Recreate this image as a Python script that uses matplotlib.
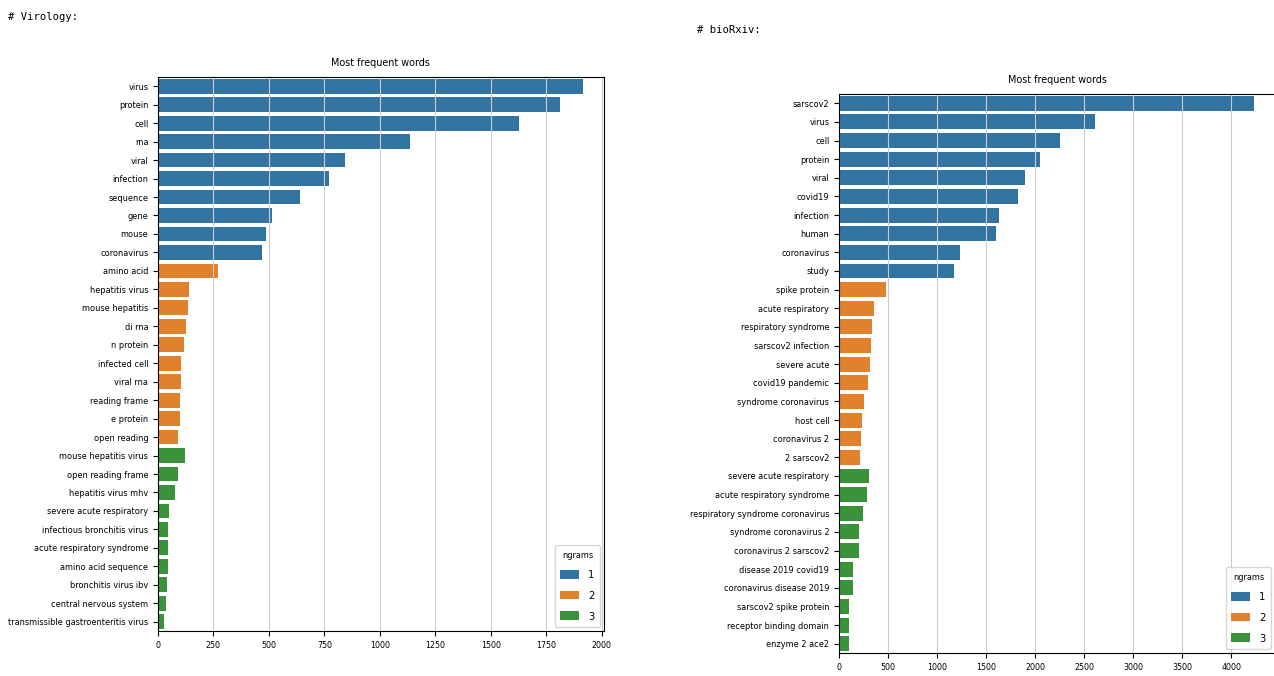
import os
import pandas as pd
import seaborn as sns
import matplotlib
matplotlib.use("Agg")
import matplotlib.pyplot as plt
from matplotlib import font_manager
from matplotlib.font_manager import FontProperties
from matplotlib.textpath import TextPath

# word counts per corpus, top 10 for each n-gram size
vir_words = ["virus", "protein", "cell", "rna", "viral", "infection", "sequence", "gene", "mouse", "coronavirus",
             "amino acid", "hepatitis virus", "mouse hepatitis", "di rna", "n protein", "infected cell",
             "viral rna", "reading frame", "e protein", "open reading",
             "mouse hepatitis virus", "open reading frame", "hepatitis virus mhv", "severe acute respiratory",
             "infectious bronchitis virus", "acute respiratory syndrome", "amino acid sequence",
             "bronchitis virus ibv", "central nervous system", "transmissible gastroenteritis virus"]
vir_counts = [1914, 1812, 1625, 1137, 843, 770, 639, 512, 487, 470,
              271, 141, 137, 125, 118, 102, 102, 100, 98, 91,
              123, 91, 77, 50, 46, 45, 45, 39, 36, 29]

bio_words = ["sarscov2", "virus", "cell", "protein", "viral", "covid19", "infection", "human", "coronavirus", "study",
             "spike protein", "acute respiratory", "respiratory syndrome", "sarscov2 infection", "severe acute",
             "covid19 pandemic", "syndrome coronavirus", "host cell", "coronavirus 2", "2 sarscov2",
             "severe acute respiratory", "acute respiratory syndrome", "respiratory syndrome coronavirus",
             "syndrome coronavirus 2", "coronavirus 2 sarscov2", "disease 2019 covid19", "coronavirus disease 2019",
             "sarscov2 spike protein", "receptor binding domain", "enzyme 2 ace2"]
bio_counts = [4232, 2604, 2252, 2052, 1896, 1824, 1632, 1600, 1236, 1176,
              476, 356, 332, 324, 316, 292, 252, 236, 220, 212,
              308, 284, 244, 204, 204, 144, 144, 100, 100, 100]

ngrams = ["1"] * 10 + ["2"] * 10 + ["3"] * 10
palette = ["#1f77b4", "#ff7f0e", "#2ca02c"]


def narrow_font():
    # prefer the narrowest sans face that is installed
    prefs = ["NotoSans-ExtraCondensed.ttf", "LiberationSansNarrow-Regular.ttf",
             "NotoSans-Condensed.ttf", "DejaVuSansCondensed.ttf", "LiberationSans-Regular.ttf"]
    files = {}
    for f in font_manager.findSystemFonts() + [f.fname for f in font_manager.fontManager.ttflist]:
        files.setdefault(os.path.basename(f), f)
    for p in prefs:
        if p in files:
            return files[p]
    return font_manager.findfont("DejaVu Sans")


def fitted(path, text, target_px):
    # font size (pt) that makes `text` about target_px wide at 100 dpi
    w = TextPath((0, 0), text, size=10, prop=FontProperties(fname=path)).get_extents().width * 100 / 72
    return 10 * target_px / w


sans = narrow_font()
mono = font_manager.findfont("DejaVu Sans Mono")

ytick_fp = FontProperties(fname=sans, size=fitted(sans, "transmissible gastroenteritis virus", 139))
xtick_fp = FontProperties(fname=sans, size=fitted(sans, "2000", 19))
title_fp = FontProperties(fname=sans, size=fitted(sans, "Most frequent words", 98))
legtitle_fp = FontProperties(fname=sans, size=fitted(sans, "ngrams", 30))
leg_fp = FontProperties(fname=sans, size=8)
head_fp = FontProperties(fname=mono, size=fitted(mono, "# Virology:", 67))

fig = plt.figure(figsize=(12.74, 6.76), dpi=100)
fig.text(0.006, 0.975, "# Virology:", fontproperties=head_fp, va="center")
fig.text(0.547, 0.956, "# bioRxiv:", fontproperties=head_fp, va="center")


def freq_plot(ax, words, counts):
    df = pd.DataFrame({"word": words, "count": counts, "ngrams": ngrams})
    sns.barplot(data=df, x="count", y="word", hue="ngrams", dodge=False, palette=palette, ax=ax)
    ax.set_title("Most frequent words", fontproperties=title_fp, pad=8)
    ax.set_xlabel("")
    ax.set_ylabel("")
    ax.grid(axis="x", color="#cccccc")
    for lbl in ax.get_yticklabels():
        lbl.set_fontproperties(ytick_fp)
    for lbl in ax.get_xticklabels():
        lbl.set_fontproperties(xtick_fp)
    leg = ax.legend(title="ngrams", loc="lower right", prop=leg_fp,
                    labelspacing=0.95, handlelength=1.7, handleheight=0.8,
                    borderaxespad=0.35, borderpad=0.5)
    leg.get_title().set_fontproperties(legtitle_fp)


ax1 = fig.add_axes([0.124, 0.0666, 0.350, 0.8195])
freq_plot(ax1, vir_words, vir_counts)
ax2 = fig.add_axes([0.6586, 0.034, 0.3422, 0.827])
freq_plot(ax2, bio_words, bio_counts)

fig.savefig("out.png", dpi=100)
